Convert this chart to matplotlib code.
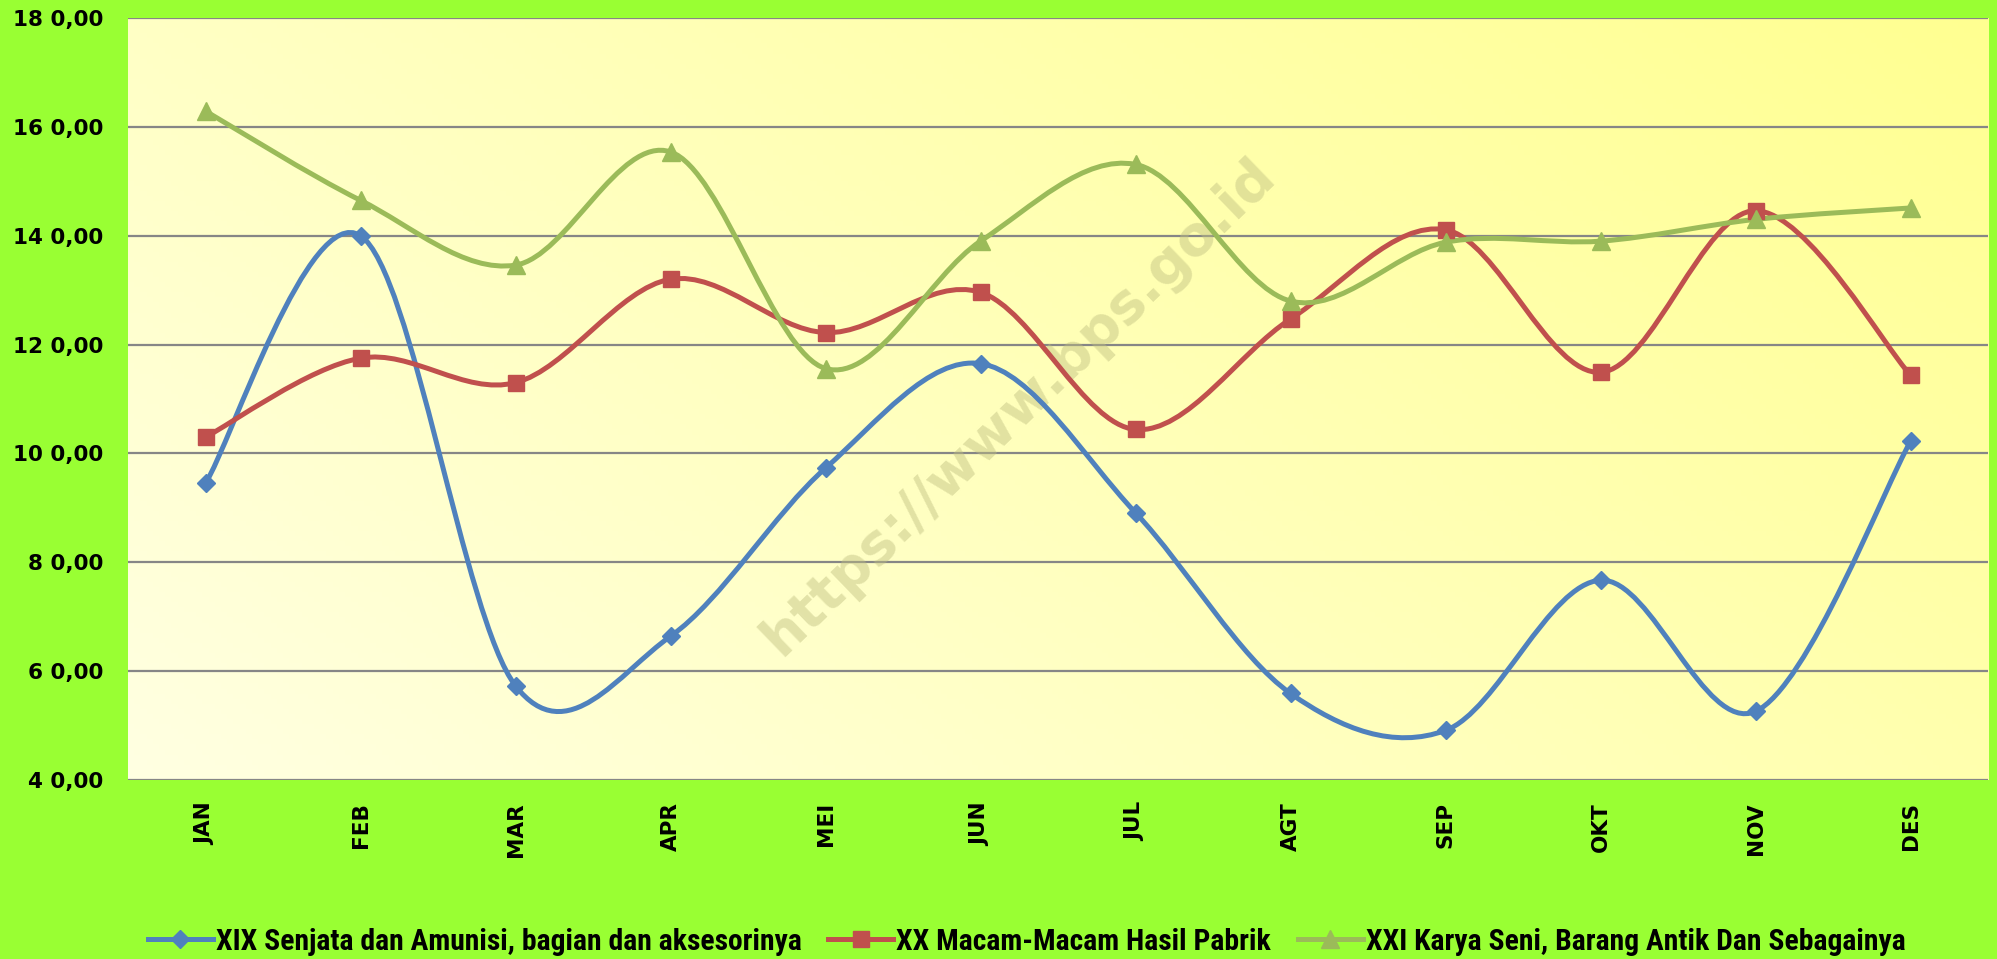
import matplotlib

matplotlib.use("Agg")

import matplotlib.pyplot as plt
import numpy as np
from matplotlib import font_manager
from matplotlib.lines import Line2D
from matplotlib.patches import PathPatch
from matplotlib.path import Path


months = ["JAN", "FEB", "MAR", "APR", "MEI", "JUN",
          "JUL", "AGT", "SEP", "OKT", "NOV", "DES"]

senjata = [9.45, 14.00, 5.73, 6.64, 9.73, 11.65,
           8.91, 5.59, 4.91, 7.67, 5.26, 10.22]
pabrik = [10.30, 11.75, 11.30, 13.20, 12.22, 12.96,
          10.44, 12.47, 14.11, 11.49, 14.46, 11.44]
karya_seni = [16.29, 14.65, 13.46, 15.54, 11.56, 13.90,
              15.31, 12.80, 13.88, 13.90, 14.30, 14.51]

series_names = [
    "XIX Senjata dan Amunisi, bagian dan aksesorinya",
    "XX Macam-Macam Hasil Pabrik",
    "XXI Karya Seni, Barang Antik Dan Sebagainya",
]

y_ticks = [4, 6, 8, 10, 12, 14, 16, 18]
y_tick_labels = ["4 0,00", "6 0,00", "8 0,00", "10 0,00",
                 "12 0,00", "14 0,00", "16 0,00", "18 0,00"]

colors = ["#4F81BD", "#C0504D", "#9BBB59"]
markers = ["D", "s", "^"]
marker_sizes = [9, 12, 13]


def pick_legend_font():
    """Returns a narrow font if one is installed."""

    for name in ["Liberation Sans Narrow", "Roboto Condensed"]:
        try:
            font_manager.findfont(
                font_manager.FontProperties(family=name),
                fallback_to_default=False,
            )
            return name, 21.3
        except ValueError:
            continue
    return "DejaVu Sans", 17


def smooth_path(xs, ys):
    """Builds an Excel-like smoothed Bezier path through the points."""

    pts = np.column_stack([xs, ys]).astype(float)
    padded = np.vstack([pts[0], pts, pts[-1]])
    verts = [pts[0]]
    codes = [Path.MOVETO]
    for i in range(len(pts) - 1):
        p0, p1, p2, p3 = padded[i], padded[i + 1], padded[i + 2], padded[i + 3]
        c1 = p1 + (p2 - p0) / 6.0
        c2 = p2 - (p3 - p1) / 6.0
        verts += [c1, c2, p2]
        codes += [Path.CURVE4] * 3
    return Path(verts, codes)


fig = plt.figure(figsize=(19.97, 9.59), dpi=100)
fig.patch.set_facecolor("#99FF33")

ax = fig.add_axes([0.0641, 0.1867, 0.9314, 0.7945])
ax.set_xlim(-0.5, len(months) - 0.5)
ax.set_ylim(4, 18)

# diagonal gradient for the plot area
gx, gy = np.meshgrid(np.linspace(0, 1, 300), np.linspace(0, 1, 150))
t = np.clip((gx * 0.8 + gy * 0.45) / 1.25, 0, 1)
start = np.array([255, 255, 226]) / 255.0
end = np.array([255, 255, 145]) / 255.0
grad = start[None, None, :] * (1 - t[..., None]) + end[None, None, :] * t[..., None]
ax.imshow(grad, extent=[0, 1, 0, 1], transform=ax.transAxes,
          origin="lower", aspect="auto", zorder=0)

for spine in ax.spines.values():
    spine.set_visible(False)

ax.set_yticks(y_ticks)
ax.set_yticklabels(y_tick_labels)
ax.yaxis.grid(True, color="#868686", linewidth=1.6, zorder=1)
ax.set_axisbelow(True)
ax.set_xticks(range(len(months)))
ax.set_xticklabels(months, rotation=90)
ax.tick_params(axis="y", length=0, pad=18, labelsize=15.5)
ax.tick_params(axis="x", length=0, pad=16, labelsize=15.5)
for label in ax.get_xticklabels() + ax.get_yticklabels():
    label.set_fontweight("bold")

ax.text(0.479, 0.49, "https://www.bps.go.id", transform=ax.transAxes,
        rotation=44, ha="center", va="center", fontsize=40,
        fontweight="bold", color="#bfbf80", alpha=0.45, zorder=2)

x = np.arange(len(months))
handles = []
for values, color, marker, msize, name in zip(
    [senjata, pabrik, karya_seni], colors, markers, marker_sizes, series_names
):
    patch = PathPatch(smooth_path(x, values), facecolor="none",
                      edgecolor=color, linewidth=3.6, zorder=3,
                      capstyle="round", joinstyle="round")
    ax.add_patch(patch)
    ax.plot(x, values, linestyle="none", marker=marker, markersize=msize,
            color=color, zorder=4)
    handles.append(Line2D([], [], color=color, linewidth=3.6, marker=marker,
                          markersize=msize, label=name))

legend_font, legend_size = pick_legend_font()
fig.legend(handles=handles, loc="center", bbox_to_anchor=(0.514, 0.018),
           ncol=3, frameon=False, handlelength=2.2, handletextpad=0.1,
           columnspacing=0.9,
           prop={"family": legend_font, "weight": "bold", "size": legend_size})

fig.savefig("out.png", dpi=100, facecolor=fig.get_facecolor())
